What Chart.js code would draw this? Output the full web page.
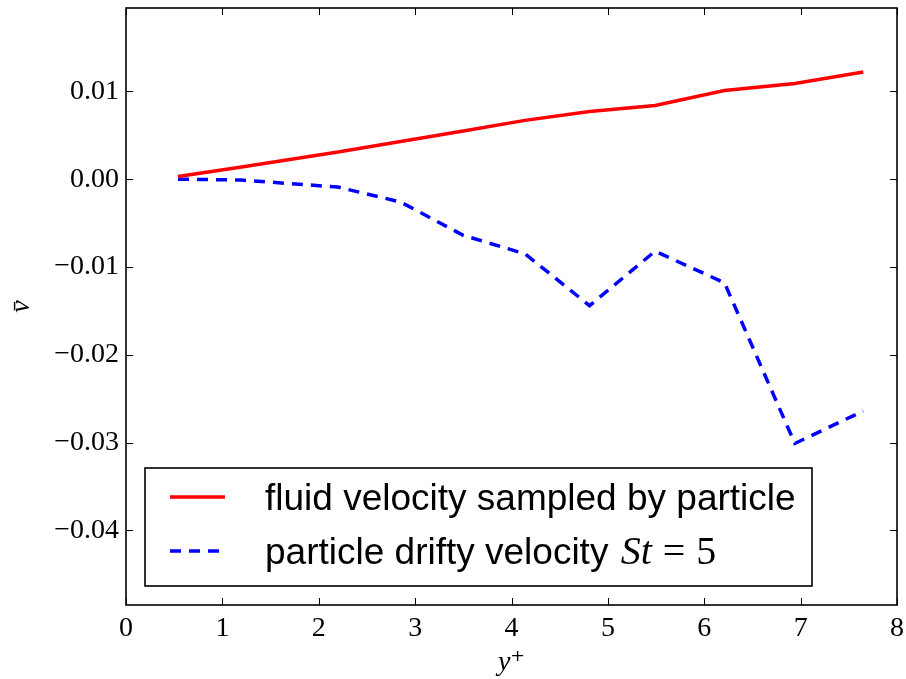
<!DOCTYPE html>
<html>
<head>
<meta charset="utf-8">
<script src="https://cdn.jsdelivr.net/npm/chart.js@4/dist/chart.umd.min.js"></script>
<style>
html,body{margin:0;padding:0;background:#fff;}
#wrap{width:906px;height:679px;position:relative;}
</style>
</head>
<body>
<div id="wrap"><canvas id="c"></canvas></div>
<script>
// Data
const yPlus = [0.54, 1.2, 2.2, 2.85, 3.5, 4.14, 4.81, 5.49, 6.21, 6.94, 7.65];
const fluidVelocity = [0.0003, 0.0014, 0.0031, 0.0043, 0.0055, 0.0067, 0.0077, 0.0084, 0.0101, 0.0109, 0.0122];
const driftVelocity = [0.0000, -0.0001, -0.0009, -0.0026, -0.0064, -0.0085, -0.0144, -0.0082, -0.0118, -0.0301, -0.0264];
const xTicks = [0, 1, 2, 3, 4, 5, 6, 7, 8];
const yTicks = [-0.04, -0.03, -0.02, -0.01, 0.00, 0.01];
const seriesLabels = ['fluid velocity sampled by particle', 'particle drifty velocity '];

const toPts = (xs, ys) => xs.map((x, i) => ({x: x, y: ys[i]}));

const frameTicks = {
  id: 'frameTicks',
  afterDatasetsDraw(chart) {
    const ctx = chart.ctx, a = chart.chartArea;
    const xs = chart.scales.x, ys = chart.scales.y;
    ctx.save();
    ctx.strokeStyle = '#000';
    ctx.lineWidth = 1;
    const L = 7;
    xTicks.forEach(v => {
      const p = Math.round(xs.getPixelForValue(v)) + 0.5;
      ctx.beginPath();
      ctx.moveTo(p, a.bottom); ctx.lineTo(p, a.bottom - L);
      ctx.moveTo(p, a.top); ctx.lineTo(p, a.top + L);
      ctx.stroke();
    });
    yTicks.forEach(v => {
      const p = Math.round(ys.getPixelForValue(v)) + 0.5;
      ctx.beginPath();
      ctx.moveTo(a.left, p); ctx.lineTo(a.left + L, p);
      ctx.moveTo(a.right, p); ctx.lineTo(a.right - L, p);
      ctx.stroke();
    });
    ctx.lineWidth = 1.6;
    ctx.strokeRect(a.left, a.top, a.right - a.left, a.bottom - a.top);

    // legend box inside plot
    const bx = a.left + 19, by = a.top + 460, bw = 667, bh = 118;
    ctx.fillStyle = '#fff';
    ctx.fillRect(bx, by, bw, bh);
    ctx.lineWidth = 1.6;
    ctx.strokeStyle = '#000';
    ctx.strokeRect(bx, by, bw, bh);
    const rows = [by + 29, by + 83];
    chart.data.datasets.forEach((ds, i) => {
      ctx.save();
      ctx.strokeStyle = ds.borderColor;
      ctx.lineWidth = ds.borderWidth;
      ctx.setLineDash(ds.borderDash || []);
      ctx.beginPath();
      ctx.moveTo(bx + 25, rows[i]); ctx.lineTo(bx + 80, rows[i]);
      ctx.stroke();
      ctx.restore();
      ctx.fillStyle = '#000';
      ctx.textBaseline = 'alphabetic';
      ctx.textAlign = 'left';
      ctx.font = '37px "Liberation Sans", Arial, sans-serif';
      const tx = bx + 120, base = rows[i] + 13;
      ctx.fillText(ds.label, tx, base);
      if (i === 1) {
        let x = tx + ctx.measureText(ds.label).width + 2;
        ctx.font = 'italic 40px "Liberation Serif", "DejaVu Serif", serif';
        ctx.fillText('St', x, base);
        x += ctx.measureText('St').width + 11;
        ctx.font = '40px "Liberation Serif", "DejaVu Serif", serif';
        ctx.fillText('=', x, base);
        x += ctx.measureText('=').width + 11;
        ctx.fillText('5', x, base);
      }
    });
    ctx.restore();
  }
};

new Chart(document.getElementById('c'), {
  type: 'line',
  data: {
    datasets: [
      {label: seriesLabels[0], data: toPts(yPlus, fluidVelocity), borderColor: '#ff0000', borderWidth: 3.5, pointRadius: 0, tension: 0, fill: false},
      {label: seriesLabels[1], data: toPts(yPlus, driftVelocity), borderColor: '#0000ff', borderWidth: 3.5, borderDash: [11, 8], pointRadius: 0, tension: 0, fill: false}
    ]
  },
  options: {
    responsive: true,
    maintainAspectRatio: false,
    animation: false,
    events: [],
    layout: {padding: {left: 0, right: 9, top: 8, bottom: 0}},
    plugins: {legend: {display: false}, tooltip: {enabled: false}},
    scales: {
      x: {
        type: 'linear', min: 0, max: 8,
        afterBuildTicks: s => { s.ticks = xTicks.map(v => ({value: v})); },
        afterFit: s => { s.height = 74; s.paddingLeft = 0; s.paddingRight = 0; },
        grid: {display: false, drawTicks: false},
        border: {display: false},
        ticks: {color: '#000', padding: 7, font: {family: '"Liberation Serif", serif', size: 28}, maxRotation: 0, callback: v => String(v)},
        title: {display: true, text: 'y\u207A', color: '#000', font: {family: '"Liberation Serif", "DejaVu Serif", serif', size: 28, style: 'italic'}, padding: {top: 0, bottom: 0}}
      },
      y: {
        type: 'linear', min: -0.0485, max: 0.0195,
        afterBuildTicks: s => { s.ticks = yTicks.map(v => ({value: v})); },
        afterFit: s => { s.width = 126; s.paddingTop = 0; s.paddingBottom = 0; },
        grid: {display: false, drawTicks: false},
        border: {display: false},
        ticks: {color: '#000', padding: 7, font: {family: '"Liberation Serif", serif', size: 28},
          callback: v => (v < 0 ? '\u2212' : '') + Math.abs(v).toFixed(2)},
        title: {display: true, text: 'v\u0304', color: '#000', font: {family: '"Liberation Serif", "DejaVu Serif", serif', size: 28, style: 'italic'}, padding: {top: 5, bottom: 0}}
      }
    }
  },
  plugins: [frameTicks]
});
</script>
</body>
</html>
